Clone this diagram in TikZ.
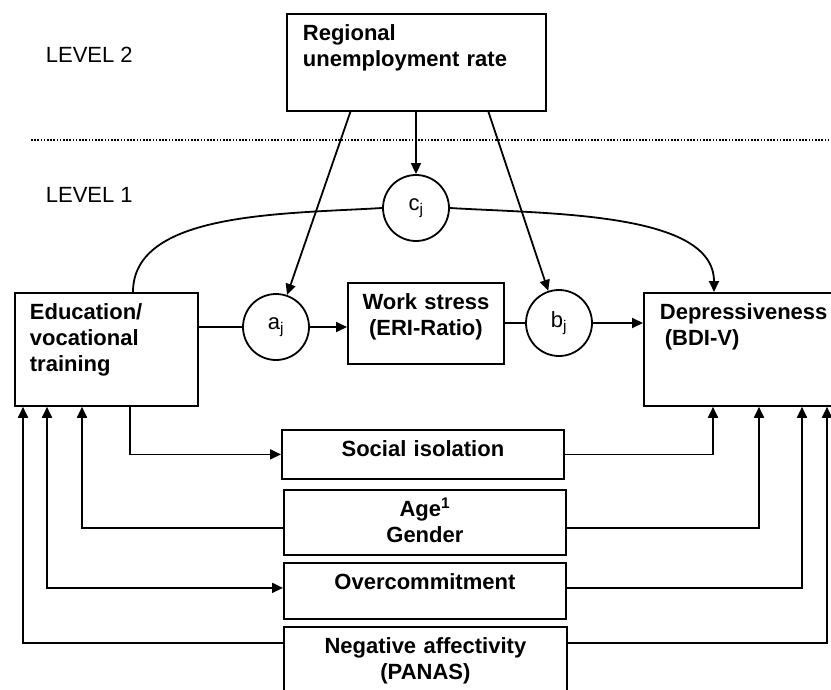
\documentclass[tikz,border=0pt]{standalone}
\usepackage{fontspec}
\setmainfont{Liberation Sans}
\usetikzlibrary{arrows.meta}

\begin{document}
\fontsize{22pt}{26pt}\selectfont
\begin{tikzpicture}[
    x=1pt, y=-1pt,
    line width=1.8pt,
    box/.style={draw, rectangle, anchor=north west, font=\bfseries, inner ysep=10.5pt, text height=16pt},
    lbox/.style={box, align=left, inner xsep=16pt},
    cbox/.style={box, align=center, inner xsep=0pt},
    coef/.style={draw, circle, minimum size=66pt, inner sep=0pt},
    tag/.style={anchor=west, inner sep=0pt},
    arrow/.style={-{Triangle[length=11pt, width=10pt]}},
    twoway/.style={{Triangle[length=11pt, width=10pt]}-{Triangle[length=11pt, width=10pt]}},
    sep/.style={line width=2.2pt, dash pattern=on 1.6pt off 1.6pt},
]
\useasboundingbox (0,0) rectangle (831,690);
\clip (0,0) rectangle (831,690);

% Ebenen
\node[tag] (lv2) at (45,55) {LEVEL 2};
\node[tag] (lv1) at (45,195) {LEVEL 1};
\draw[sep] (31,140) -- (831,140);

% Level 2
\node[lbox, text width=227pt, text depth=60pt] (reg) at (286,13)
    {Regional\\unemployment rate};

% Level 1
\node[lbox, inner xsep=15pt, text width=153pt, text depth=76pt] (edu) at (14,292)
    {Education/\\vocational\\training};
\node[cbox, text width=156pt, text depth=44pt] (work) at (347,282)
    {Work stress\\(ERI-Ratio)};
\node[lbox, text width=200pt, text depth=76pt] (dep) at (643,292)
    {Depressiveness\\\hspace*{5pt}(BDI-V)};

\node[coef] (aj) at (276,327) {a\textsubscript{j}};
\node[coef] (bj) at (559,323) {b\textsubscript{j}};
\node[coef] (cj) at (416,208) {c\textsubscript{j}};

% Kovariaten
\node[cbox, text width=282pt, text depth=12pt] (soc) at (281,429) {Social isolation};
\node[cbox, text width=282pt, text depth=28pt] (age) at (283,489)
    {Age\textsuperscript{1}\\Gender};
\node[cbox, text width=282pt, text depth=19pt] (over) at (283,562) {Overcommitment};
\node[cbox, text width=283pt, text depth=43pt] (neg) at (283,626)
    {Negative affectivity\\(PANAS)};

% Pfade
\draw[arrow] (reg.south -| cj.north) -- (cj.north);
\draw[arrow] ([xshift=-66pt]reg.south) -- (aj);
\draw[arrow] ([xshift=72pt]reg.south) -- (bj);

\draw (edu.east |- aj.west) -- (aj.west);
\draw[arrow] (aj.east) -- (aj.east -| work.west);
\draw (work.east |- bj.west) -- (bj.west);
\draw[arrow] (bj.east) -- (bj.east -| dep.west);

\draw ([xshift=119pt]edu.north west) .. controls +(0,-80) and +(-100,6) .. (cj.west);
\draw[arrow] (cj.east) .. controls +(100,6) and +(0,-80) .. ([xshift=71pt]dep.north west);

% Kontrollvariablen
\draw[arrow] ([xshift=116pt]edu.south west) |- (soc.west);
\draw[arrow] (soc.east) -| ([xshift=70pt]dep.south west);
\draw[arrow] ([yshift=-5.5pt]age.west) -| ([xshift=68pt]edu.south west);
\draw[arrow] ([yshift=-5.5pt]age.east) -| ([xshift=116pt]dep.south west);
\draw[twoway] ([xshift=33pt]edu.south west) |- ([yshift=3pt]over.west);
\draw[arrow] ([yshift=3pt]over.east) -| ([xshift=159pt]dep.south west);
\draw[arrow] ([yshift=-17pt]neg.north west) -| ([xshift=9pt]edu.south west);
\draw[arrow] ([yshift=-17pt]neg.north east) -| ([xshift=184pt]dep.south west);

\end{tikzpicture}
\end{document}
